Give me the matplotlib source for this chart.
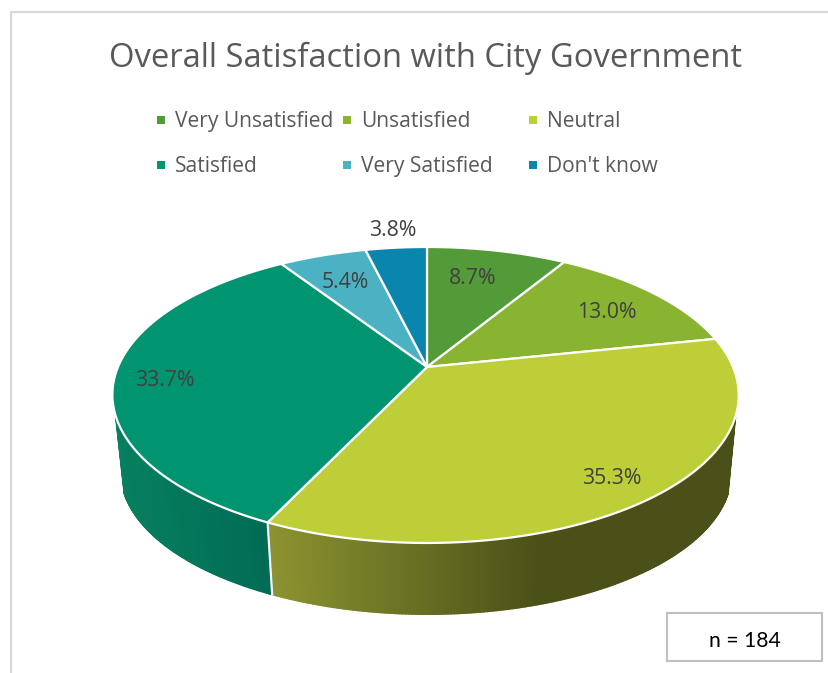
import numpy as np
import matplotlib
matplotlib.use('Agg')
from matplotlib import pyplot as plt
from matplotlib.collections import PolyCollection
from matplotlib.colors import to_rgb
from matplotlib.patches import Rectangle

title = 'Overall Satisfaction with City Government'
labels = ['Very Unsatisfied', 'Unsatisfied', 'Neutral', 'Satisfied', 'Very Satisfied', "Don't know"]
values = [8.7, 13.0, 35.3, 33.7, 5.4, 3.8]
colors = ['#539B39', '#88B432', '#BDCE38', '#009470', '#4BB2C4', '#0A86AE']
n_text = 'n = 184'

plt.rcParams['font.family'] = ['Open Sans', 'DejaVu Sans']

fig = plt.figure(figsize=(8.29, 6.73), dpi=100)
ax = fig.add_axes([0, 0, 1, 1])
ax.set_xlim(0, 829)
ax.set_ylim(673, 0)
ax.axis('off')

# pie is tilted, apex is not the middle of the ellipse so use a perspective map
k = 0.189
def top_xy(a):
    x, y = np.sin(a), np.cos(a)
    return 427 + 307.5 * x / (1 + k * y) - 1.5 * x**2, 367 - 142.7 * y / (1 + k * y)

def bottom_xy(a):
    x, y = top_xy(a)
    return 426 + (x - 425.5) * 305 / 313, 472 + (y - 395) * 142 / 148

frac = np.array(values) / sum(values)
edges = np.concatenate([[0], np.cumsum(frac)]) * 2 * np.pi

# side wall, shaded by screen x
def side_color(i, x):
    if i == 3:
        t = np.clip((x - 114) / 156, 0, 1)
        c0, c1 = to_rgb('#07805F'), to_rgb('#006B54')
    else:
        t = np.clip((x - 268) / 272, 0, 1)
        c0, c1 = to_rgb('#8C9430'), to_rgb('#4B5018')
    return tuple(a + (b - a) * t for a, b in zip(c0, c1))

for i in [2, 3]:
    ang = np.linspace(edges[i], edges[i + 1], 250)
    tx, ty = top_xy(ang)
    bx, by = bottom_xy(ang)
    quads, cols = [], []
    for j in range(len(ang) - 1):
        # wall only starts a bit below the widest point of the top
        if np.cos(ang[j]) > -0.33:
            continue
        quads.append([(tx[j], ty[j]), (tx[j + 1], ty[j + 1]), (bx[j + 1], by[j + 1]), (bx[j], by[j])])
        cols.append(side_color(i, tx[j]))
    ax.add_collection(PolyCollection(quads, facecolors=cols, edgecolors=cols, linewidths=1.5, zorder=2))

# seam between neutral and satisfied
tx, ty = top_xy(edges[3])
bx, by = bottom_xy(edges[3])
ax.plot([tx, bx], [ty, by], color='white', lw=1.6, zorder=3)

# top of the pie
for i in range(len(values)):
    ang = np.linspace(edges[i], edges[i + 1], 200)
    x, y = top_xy(ang)
    ax.fill(np.r_[427, x], np.r_[367, y], facecolor=colors[i], edgecolor='white', lw=1.6, joinstyle='round', zorder=4)

# data labels
label_xy = [(473, 279), (607, 312), (612, 478), (165, 381), (345, 283), (393, 230)]
for v, (x, y) in zip(values, label_xy):
    ax.text(x, y, f'{v:.1f}%', color='#404040', fontsize=15.3, ha='center', va='center', zorder=5)

ax.text(426, 58, title, color='#595959', fontsize=23.55, ha='center', va='center')

# legend, 3 columns 2 rows
leg_x = [157, 343, 529]
leg_y = [120, 165]
for i, lab in enumerate(labels):
    x0 = leg_x[i % 3]
    y0 = leg_y[i // 3]
    ax.add_patch(Rectangle((x0, y0 - 4), 8, 8, facecolor=colors[i], edgecolor='none'))
    ax.text(x0 + 18, y0 + 7, lab, color='#595959', fontsize=15.1, ha='left', va='baseline')

# outer frame, only top and left show
ax.plot([11, 11, 829], [673, 12, 12], color='#D9D9D9', lw=1.6, zorder=1)

# n box
ax.add_patch(Rectangle((667, 613), 155, 48, facecolor='white', edgecolor='#BFBFBF', lw=1.5, zorder=6))
ax.text(744.5, 641, n_text, color='black', fontsize=15.2, family=['Lato', 'DejaVu Sans'], ha='center', va='center', zorder=7)

fig.savefig('out.png', dpi=100)
